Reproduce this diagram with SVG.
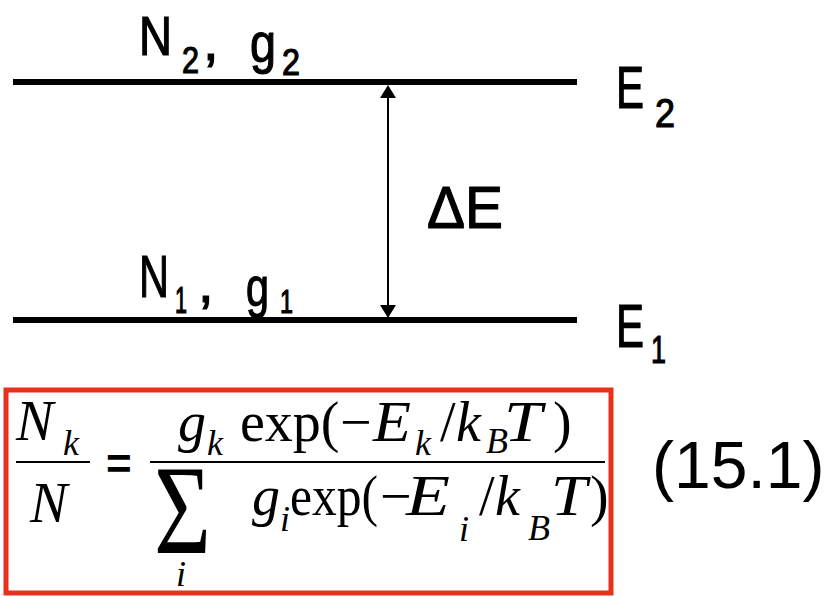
<svg xmlns="http://www.w3.org/2000/svg" width="828" height="596" viewBox="0 0 828 596">
<style>
.lbl{font-family:"Liberation Sans","DejaVu Sans",sans-serif;fill:#000;stroke:#000;stroke-width:1.2}
.m{font-family:"Liberation Serif","DejaVu Serif",serif;fill:#000;font-size:56px}
.it{font-style:italic}
.sub{font-size:36px}
.lvl{stroke:#000;stroke-width:6}
</style>
<rect width="828" height="596" fill="#fff"/>
<g id="level2">
<line class="lvl" x1="13" y1="82" x2="577" y2="82"/>
<text class="lbl" x="139" y="55" font-size="56" textLength="33" lengthAdjust="spacingAndGlyphs">N</text>
<text class="lbl" x="182" y="73" font-size="36" textLength="17" lengthAdjust="spacingAndGlyphs">2</text>
<text class="lbl" x="203" y="60" font-size="56">,</text>
<text class="lbl" x="250" y="62" font-size="56" textLength="26" lengthAdjust="spacingAndGlyphs">g</text>
<text class="lbl" x="282" y="75" font-size="36" textLength="18" lengthAdjust="spacingAndGlyphs">2</text>
<text class="lbl" x="616" y="108" font-size="60" textLength="28" lengthAdjust="spacingAndGlyphs">E</text>
<text class="lbl" x="655" y="127" font-size="41" textLength="20" lengthAdjust="spacingAndGlyphs">2</text>
</g>
<g id="level1">
<line class="lvl" x1="13" y1="320" x2="577" y2="320"/>
<text class="lbl" x="139" y="297" font-size="60" textLength="30" lengthAdjust="spacingAndGlyphs">N</text>
<text class="lbl" x="175" y="313" font-size="36" textLength="12" lengthAdjust="spacingAndGlyphs">1</text>
<text class="lbl" x="198" y="302" font-size="56">,</text>
<text class="lbl" x="246" y="306" font-size="56" textLength="23" lengthAdjust="spacingAndGlyphs">g</text>
<text class="lbl" x="280" y="313" font-size="34" textLength="13" lengthAdjust="spacingAndGlyphs">1</text>
<text class="lbl" x="616" y="347" font-size="62" textLength="28" lengthAdjust="spacingAndGlyphs">E</text>
<text class="lbl" x="651" y="363" font-size="39" textLength="15" lengthAdjust="spacingAndGlyphs">1</text>
</g>
<g id="connectors">
<line x1="388" y1="96" x2="388" y2="307" stroke="#000" stroke-width="2"/>
<polygon points="388,85 380,98 396,98" fill="#000"/>
<polygon points="388,318 380,305 396,305" fill="#000"/>
<text class="lbl" x="427" y="228" font-size="60" textLength="76" lengthAdjust="spacingAndGlyphs">ΔE</text>
</g>
<g id="formula">
<rect x="6" y="390" width="605" height="203" fill="none" stroke="#e8301c" stroke-width="5"/>
<text class="m it" x="16" y="440">N</text>
<text class="m it sub" x="63" y="455">k</text>
<line x1="16" y1="462" x2="90" y2="462" stroke="#000" stroke-width="2"/>
<text class="m it" x="30" y="522">N</text>
<text x="106" y="479" font-family="Liberation Sans" font-weight="bold" font-size="44">=</text>
<line x1="150" y1="462" x2="605" y2="462" stroke="#000" stroke-width="2"/>
<text class="m it" x="178" y="441">g</text>
<text class="m it sub" x="207" y="455">k</text>
<text class="m" x="240" y="441">exp(</text>
<text class="m" x="340" y="441">−</text>
<text class="m it" x="373" y="441" textLength="38" lengthAdjust="spacingAndGlyphs">E</text>
<text class="m it sub" x="415" y="455">k</text>
<text class="m" x="440" y="441">/</text>
<text class="m it" x="456" y="441">k</text>
<text class="m it sub" x="486" y="453">B</text>
<text class="m it" x="504" y="441" textLength="38" lengthAdjust="spacingAndGlyphs">T</text>
<text class="m" x="553" y="441">)</text>
<text class="m" x="154" y="553" style="font-size:128px" textLength="57" lengthAdjust="spacingAndGlyphs">Σ</text>
<text class="m it sub" x="176" y="586">i</text>
<text class="m it" x="252" y="515">g</text>
<text class="m it sub" x="280" y="531">i</text>
<text class="m" x="290" y="515" textLength="88" lengthAdjust="spacingAndGlyphs">exp(</text>
<text class="m" x="380" y="515">−</text>
<text class="m it" x="406" y="515" textLength="44" lengthAdjust="spacingAndGlyphs">E</text>
<text class="m it sub" x="459" y="541">i</text>
<text class="m" x="479" y="515">/</text>
<text class="m it" x="495" y="515">k</text>
<text class="m it sub" x="528" y="540">B</text>
<text class="m it" x="551" y="515" textLength="36" lengthAdjust="spacingAndGlyphs">T</text>
<text class="m" x="590" y="515">)</text>
<text x="652" y="488" font-family="Liberation Sans" font-size="66">(15.1)</text>
</g>
</svg>
